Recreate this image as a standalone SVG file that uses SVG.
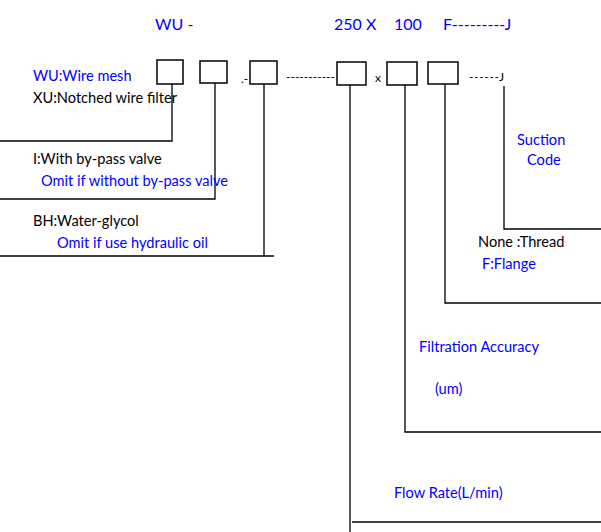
<svg xmlns="http://www.w3.org/2000/svg" width="601" height="532" viewBox="0 0 601 532">
<style>
text{font-family:Lato,"Open Sans","Liberation Sans",sans-serif;font-size:14.6px;fill:#000}
.b{fill:#0000ff}
.t{font-size:16px}
.s{font-size:12px}
.box{fill:#fff;stroke:#000;stroke-width:1.5}
.ln{fill:none;stroke:#000;stroke-width:1.3}
</style>
<rect width="601" height="532" fill="#fff"/>
<g id="title">
<text class="b t" x="155" y="30">WU -</text>
<text class="b t" x="334" y="30">250 X</text>
<text class="b t" x="394" y="30">100</text>
<text class="b t" x="443" y="30">F---------J</text>
</g>
<g id="connectors">
<polyline class="ln" points="172,84 172,141 0,141"/>
<polyline class="ln" points="215,83 215,199 0,199"/>
<polyline class="ln" points="264,84 264,256 0,256 274,256"/>
<polyline class="ln" points="350,85 350,532"/>
<line class="ln" x1="352" y1="522" x2="601" y2="522"/>
<polyline class="ln" points="405,85 405,432 601,432"/>
<polyline class="ln" points="445,84 445,303 601,303"/>
<polyline class="ln" points="504,86 504,229 601,229"/>
</g>
<g id="node-type"><rect class="box" x="157" y="60" width="26" height="24"/></g>
<g id="node-bypass"><rect class="box" x="200" y="61" width="27" height="22"/></g>
<g id="node-medium">
<text class="s" x="241" y="83">.-</text>
<rect class="box" x="250" y="61" width="27" height="23"/>
</g>
<text class="s" x="286" y="81">-----------</text>
<g id="node-flow"><rect class="box" x="337" y="62" width="29" height="23"/></g>
<text class="s" x="375" y="82">x</text>
<g id="node-accuracy"><rect class="box" x="387" y="62" width="30" height="23"/></g>
<g id="node-connection"><rect class="box" x="428" y="62" width="30" height="22"/></g>
<text class="s" x="469" y="81" textLength="35">------J</text>
<g id="label-type">
<text class="b" x="33" y="81">WU:Wire mesh</text>
<text x="33" y="103">XU:Notched wire filter</text>
</g>
<g id="label-bypass">
<text x="33" y="164">I:With by-pass valve</text>
<text class="b" x="41" y="186">Omit if without by-pass valve</text>
</g>
<g id="label-medium">
<text x="33" y="226">BH:Water-glycol</text>
<text class="b" x="57" y="248">Omit if use hydraulic oil</text>
</g>
<g id="label-suction">
<text class="b" x="517" y="145">Suction</text>
<text class="b" x="527" y="165">Code</text>
</g>
<g id="label-connection">
<text x="478" y="247">None :Thread</text>
<text class="b" x="482" y="269">F:Flange</text>
</g>
<g id="label-accuracy">
<text class="b" x="419" y="352">Filtration Accuracy</text>
<text class="b" x="435" y="394">(um)</text>
</g>
<g id="label-flow">
<text class="b" x="394" y="498">Flow Rate(L/min)</text>
</g>
</svg>
